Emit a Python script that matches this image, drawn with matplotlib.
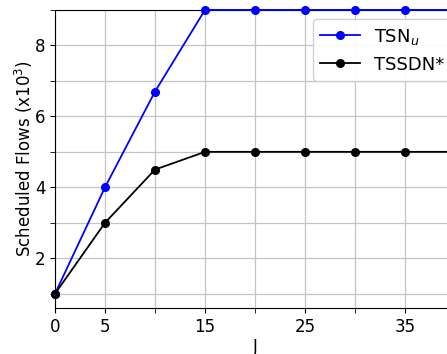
import numpy as np
import matplotlib.pyplot as plt

# data
j_values = [0, 5, 10, 15, 20, 25, 30, 35, 40]
tsn_u = [1, 4, 6.7, 9, 9, 9, 9, 9, 9]
tssdn = [1, 3, 4.5, 5, 5, 5, 5, 5, 5]

x_labeled = [0, 5, 15, 25, 35]
x_unlabeled = [10, 20, 30]
y_labeled = [2, 4, 6, 8]
y_unlabeled = [1, 3, 5, 7, 9]

plt.rcParams['font.family'] = 'DejaVu Sans'

fig = plt.figure(figsize=(4.47, 3.54), dpi=100)
# the original is cropped on the right, so the axes run past the figure edge
ax = fig.add_axes([0.123, 0.13, 0.895, 0.842])

ax.plot(j_values, tsn_u, color='blue', marker='o', markersize=5.5, linewidth=1.3,
        label='TSN$_u$', clip_on=False, zorder=3)
ax.plot(j_values, tssdn, color='black', marker='o', markersize=5.5, linewidth=1.3,
        label='TSSDN*', clip_on=False, zorder=3)

ax.set_xlim(0, 40)
ax.set_ylim(0.6, 9)

ax.set_xticks(x_labeled)
ax.set_xticks(x_unlabeled, minor=True)
ax.set_yticks(y_labeled)
ax.set_yticks(y_unlabeled, minor=True)
ax.tick_params(axis='both', which='major', labelsize=12)
ax.tick_params(axis='both', which='minor', length=3.5)
ax.grid(True, which='both', color='#c4c4c4', linewidth=0.9)
ax.set_axisbelow(True)

ax.set_xlabel('J', fontsize=12, labelpad=2)
ax.set_ylabel('Scheduled Flows (x10$^3$)', fontsize=12, labelpad=0)

ax.legend(loc='upper left', bbox_to_anchor=(0.645, 0.968), fontsize=13,
          handlelength=2.2, borderaxespad=0, framealpha=0.9)

fig.savefig('out.png', dpi=100)
